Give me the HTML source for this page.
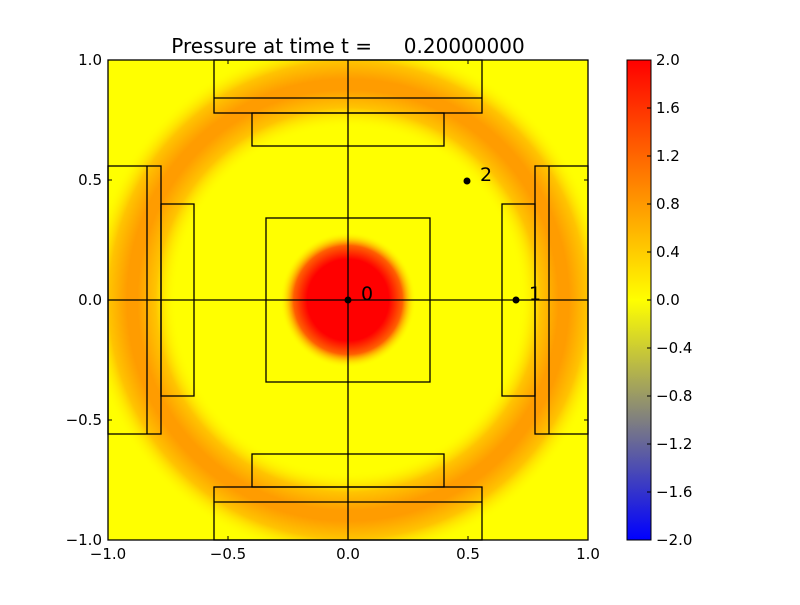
<!DOCTYPE html>
<html><head><meta charset="utf-8"><style>
body{margin:0;background:#fff}
svg text{font-family:"DejaVu Sans","Liberation Sans",sans-serif;font-size:15px}
</style></head><body>
<svg width="800" height="600" viewBox="0 0 800 600" xmlns="http://www.w3.org/2000/svg">
<defs>
<radialGradient id="ctr" cx="348" cy="300" r="68" gradientUnits="userSpaceOnUse">
<stop offset="0" stop-color="#ff0000"/>
<stop offset="0.6" stop-color="#ff0000"/>
<stop offset="0.8" stop-color="#ff6000"/>
<stop offset="1" stop-color="#ffff00" stop-opacity="0"/>
</radialGradient>
<radialGradient id="ring" cx="348" cy="300" r="260" gradientUnits="userSpaceOnUse">
<stop offset="0.66" stop-color="#ffff00" stop-opacity="0"/>
<stop offset="0.74" stop-color="#ffc400"/>
<stop offset="0.81" stop-color="#ff9c00"/>
<stop offset="0.85" stop-color="#ff9c00"/>
<stop offset="0.92" stop-color="#ffc400"/>
<stop offset="1" stop-color="#ffff00" stop-opacity="0"/>
</radialGradient>
<linearGradient id="cb" x1="0" y1="1" x2="0" y2="0">
<stop offset="0" stop-color="#0000ff"/>
<stop offset="0.5" stop-color="#ffff00"/>
<stop offset="1" stop-color="#ff0000"/>
</linearGradient>
<clipPath id="pc"><rect x="108" y="60" width="480" height="480"/></clipPath>
</defs>
<text x="348" y="53" text-anchor="middle" style="font-size:20px" xml:space="preserve">Pressure at time t =     0.20000000</text>
<g clip-path="url(#pc)">
<rect x="108" y="60" width="480" height="480" fill="#ffff00"/>
<rect x="108" y="60" width="480" height="480" fill="url(#ring)"/>
<rect x="108" y="60" width="480" height="480" fill="url(#ctr)"/>
</g>
<g fill="none" stroke="#000" stroke-width="1.3">
<rect x="214" y="60" width="268" height="53"/><line x1="214" y1="98" x2="482" y2="98"/>
<rect x="252" y="113" width="192" height="33"/>
<rect x="214" y="487" width="268" height="53"/><line x1="214" y1="502" x2="482" y2="502"/>
<rect x="252" y="454" width="192" height="33"/>
<rect x="108" y="166" width="53" height="268"/><line x1="147" y1="166" x2="147" y2="434"/>
<rect x="161" y="204" width="33" height="192"/>
<rect x="535" y="166" width="53" height="268"/><line x1="549" y1="166" x2="549" y2="434"/>
<rect x="502" y="204" width="33" height="192"/>
<rect x="266" y="218" width="164" height="164"/>
<line x1="348" y1="60" x2="348" y2="540"/><line x1="108" y1="300" x2="588" y2="300"/>
<rect x="108" y="60" width="480" height="480"/>
</g>
<g fill="#000"><circle cx="348" cy="300" r="3.5"/><circle cx="516" cy="300" r="3.5"/><circle cx="467" cy="181" r="3.5"/></g>
<text x="361" y="300" style="font-size:19px">0</text>
<text x="529" y="300" style="font-size:19px">1</text>
<text x="480" y="181" style="font-size:19px">2</text>
<g stroke="#000" stroke-width="1">
<path d="M228 60v4M348 60v4M468 60v4M228 540v-4M348 540v-4M468 540v-4M108 180h4M108 300h4M108 420h4M588 180h-4M588 300h-4M588 420h-4"/>
</g>
<g text-anchor="end">
<text x="102" y="65">1.0</text><text x="102" y="185">0.5</text><text x="102" y="305">0.0</text><text x="102" y="425">−0.5</text><text x="102" y="545">−1.0</text>
</g>
<g text-anchor="middle">
<text x="108" y="559">−1.0</text><text x="228" y="559">−0.5</text><text x="348" y="559">0.0</text><text x="468" y="559">0.5</text><text x="588" y="559">1.0</text>
</g>
<rect x="627" y="60" width="24" height="480" fill="url(#cb)" stroke="#000" stroke-width="1"/>
<g stroke="#000"><path d="M647 108h4M647 156h4M647 204h4M647 252h4M647 300h4M647 348h4M647 396h4M647 444h4M647 492h4"/></g>
<g>
<text x="656" y="65">2.0</text><text x="656" y="113">1.6</text><text x="656" y="161">1.2</text><text x="656" y="209">0.8</text><text x="656" y="257">0.4</text><text x="656" y="305">0.0</text><text x="656" y="353">−0.4</text><text x="656" y="401">−0.8</text><text x="656" y="449">−1.2</text><text x="656" y="497">−1.6</text><text x="656" y="545">−2.0</text>
</g>
</svg>
</body></html>
